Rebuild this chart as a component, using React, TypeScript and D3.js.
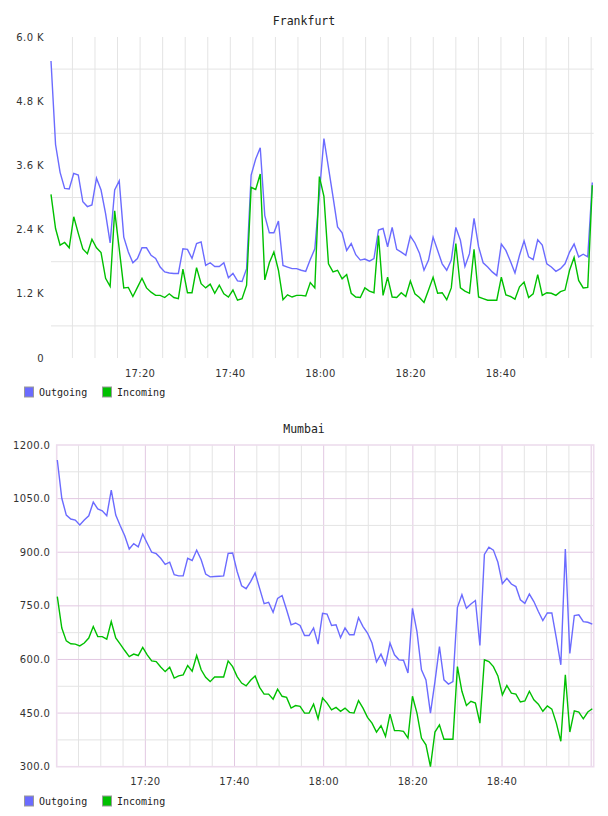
import { useEffect, useRef } from 'react';
import * as d3 from 'd3';

// Frankfurt traffic, one sample per step (raw units, axis shows K)
const frankfurtOutgoing = [
  5550, 3990, 3470, 3170, 3160, 3450, 3420, 2920, 2830, 2860,
  3360, 3140, 2700, 2150, 3140, 3310, 2260, 1980, 1780, 1860,
  2060, 2060, 1920, 1860, 1700, 1610, 1590, 1580, 1580, 2040,
  2030, 1860, 2140, 2170, 1730, 1780, 1710, 1710, 1780, 1500,
  1580, 1440, 1430, 1670, 3420, 3720, 3930, 2660, 2340, 2340,
  2560, 1730, 1700, 1670, 1670, 1640, 1620, 1840, 2040, 3070,
  4100, 3560, 3010, 2450, 2340, 2010, 2140, 1930, 1830, 1850,
  1810, 1860, 2390, 2420, 2080, 2440, 2030, 1980, 1920, 2280,
  2150, 1960, 1640, 1830, 2260, 2010, 1760, 1640, 1830, 2440,
  2200, 1710, 1950, 2610, 2080, 1780, 1700, 1610, 1540, 2130,
  2010, 1810, 1590, 1920, 2190, 1890, 1840, 2210, 2110, 1760,
  1700, 1620, 1670, 1760, 1980, 2130, 1890, 1940, 1890, 3280,
];
const frankfurtIncoming = [
  3060, 2420, 2110, 2160, 2060, 2640, 2330, 2040, 1950, 2220,
  2060, 1970, 1490, 1340, 2750, 2040, 1310, 1320, 1150, 1320,
  1490, 1310, 1230, 1170, 1170, 1130, 1200, 1130, 1110, 1660,
  1220, 1220, 1690, 1390, 1310, 1380, 1210, 1360, 1200, 1140,
  1270, 1080, 1110, 1360, 3190, 3150, 3440, 1460, 1780, 1980,
  1640, 1090, 1180, 1140, 1170, 1170, 1160, 1410, 1310, 3390,
  3020, 1760, 1610, 1640, 1480, 1560, 1210, 1140, 1130, 1310,
  1250, 1220, 2290, 1170, 1510, 1140, 1130, 1220, 1150, 1440,
  1200, 1130, 1040, 1270, 1510, 1210, 1220, 1090, 1310, 2140,
  1310, 1250, 1210, 2030, 1140, 1110, 1080, 1080, 1080, 1510,
  1180, 1150, 1100, 1330, 1420, 1130, 1200, 1560, 1170, 1220,
  1210, 1170, 1240, 1270, 1640, 1880, 1450, 1310, 1320, 3230,
];

// Mumbai traffic
const mumbaiOutgoing = [
  1158, 1051, 1004, 993, 990, 976, 990, 1002, 1040, 1021,
  1016, 1002, 1074, 1004, 974, 946, 909, 924, 915, 951,
  925, 900, 896, 883, 866, 872, 837, 834, 834, 883,
  877, 906, 879, 839, 831, 832, 833, 834, 897, 898,
  846, 806, 798, 818, 842, 799, 756, 760, 732, 771,
  779, 739, 697, 702, 695, 667, 667, 688, 643, 729,
  727, 695, 697, 661, 688, 669, 669, 717, 692, 674,
  646, 593, 615, 585, 646, 613, 599, 598, 562, 743,
  678, 571, 543, 450, 538, 636, 543, 531, 538, 746,
  781, 743, 755, 765, 639, 894, 914, 906, 872, 812,
  827, 811, 804, 767, 757, 783, 762, 734, 709, 730,
  730, 660, 585, 909, 617, 723, 725, 706, 704, 699,
];
const mumbaiIncoming = [
  776, 688, 652, 644, 643, 638, 646, 660, 692, 664,
  664, 657, 706, 660, 643, 625, 608, 615, 611, 634,
  613, 596, 594, 579, 566, 578, 548, 554, 557, 583,
  567, 611, 571, 550, 538, 551, 551, 551, 596, 580,
  552, 534, 526, 542, 554, 522, 503, 503, 489, 517,
  497, 494, 464, 471, 469, 450, 450, 475, 434, 492,
  478, 459, 466, 455, 464, 452, 450, 485, 464, 438,
  422, 397, 415, 385, 447, 401, 401, 399, 380, 497,
  450, 380, 361, 300, 397, 417, 377, 377, 377, 580,
  511, 471, 483, 478, 422, 599, 594, 580, 554, 501,
  527, 506, 503, 481, 484, 511, 487, 475, 455, 470,
  461, 422, 371, 557, 397, 456, 453, 434, 453, 462,
];

const seriesNames = ['Outgoing', 'Incoming'];
const seriesColors = ['#6b6bff', '#00c000'];

const rangeStart = '17:00:15';
const rangeEnd = '19:00:15';
const timeTickLabels = ['17:20', '17:40', '18:00', '18:20', '18:40'];

const frankfurtTicks = [0, 1200, 2400, 3600, 4800, 6000];
const mumbaiTicks = [300, 450, 600, 750, 900, 1050, 1200];

const parseClock = d3.timeParse('%H:%M:%S');
const parseTick = d3.timeParse('%H:%M');
const fmtTime = d3.timeFormat('%H:%M');

interface PanelConfig {
  title: string;
  titleY: number;
  series: number[][];
  ticks: number[];
  tickFormat: (v: number) => string;
  left: number;
  right: number;
  gridRight: number;
  top: number;
  bottom: number;
  xLabelY: number;
  legendY: number;
  framed: boolean;
}

function drawPanel(svg: d3.Selection<SVGSVGElement, unknown, null, undefined>, cfg: PanelConfig) {
  const t0 = parseClock(rangeStart)!;
  const t1 = parseClock(rangeEnd)!;
  const n = cfg.series[0].length;
  // samples are spread evenly across the requested window
  const times = d3.range(n).map(i => new Date(+t0 + (i * (+t1 - +t0)) / (n - 1)));

  const x = d3.scaleTime().domain([t0, t1]).range([cfg.left, cfg.right]);
  const y = d3.scaleLinear()
    .domain([cfg.ticks[0], cfg.ticks[cfg.ticks.length - 1]])
    .range([cfg.bottom, cfg.top]);

  const g = svg.append('g');

  const minor = '#e4e4e4';
  const major = cfg.framed ? '#e2c8e2' : '#e4e4e4';

  // vertical grid every 5 minutes, 20-minute lines stand out on framed panels
  const minutes = d3.timeMinute.every(5)!.range(t0, t1);
  g.append('g')
    .selectAll('line')
    .data(minutes)
    .join('line')
    .attr('x1', d => x(d))
    .attr('x2', d => x(d))
    .attr('y1', cfg.top)
    .attr('y2', cfg.bottom)
    .attr('stroke', d => (d.getMinutes() % 20 === 0 ? major : minor))
    .attr('stroke-width', 1);

  // horizontal grid: half steps, plus the labelled steps on framed panels
  const halfSteps = cfg.ticks.slice(1).map((t, i) => (t + cfg.ticks[i]) / 2);
  g.append('g')
    .selectAll('line')
    .data(halfSteps)
    .join('line')
    .attr('x1', cfg.left)
    .attr('x2', cfg.gridRight)
    .attr('y1', d => y(d))
    .attr('y2', d => y(d))
    .attr('stroke', minor)
    .attr('stroke-width', 1);

  if (cfg.framed) {
    g.append('g')
      .selectAll('line')
      .data(cfg.ticks.slice(1, -1))
      .join('line')
      .attr('x1', cfg.left)
      .attr('x2', cfg.gridRight)
      .attr('y1', d => y(d))
      .attr('y2', d => y(d))
      .attr('stroke', major)
      .attr('stroke-width', 1);

    g.append('rect')
      .attr('x', cfg.left - 0.6)
      .attr('y', cfg.top)
      .attr('width', cfg.gridRight - cfg.left + 0.6)
      .attr('height', cfg.bottom - cfg.top)
      .attr('fill', 'none')
      .attr('stroke', '#eddced')
      .attr('stroke-width', 1.6);
  }

  // y labels
  g.append('g')
    .selectAll('text')
    .data(cfg.ticks)
    .join('text')
    .attr('x', cfg.left - 7)
    .attr('y', d => y(d))
    .attr('dy', '0.35em')
    .attr('text-anchor', 'end')
    .style('font-family', 'DejaVu Sans, sans-serif')
    .style('font-size', '10px')
    .style('letter-spacing', '0.4px')
    .style('fill', '#333')
    .text(cfg.tickFormat);

  // x labels
  g.append('g')
    .selectAll('text')
    .data(timeTickLabels.map(s => parseTick(s)!))
    .join('text')
    .attr('x', d => x(d))
    .attr('y', cfg.xLabelY)
    .attr('text-anchor', 'middle')
    .style('font-family', 'DejaVu Sans, sans-serif')
    .style('font-size', '10px')
    .style('letter-spacing', '0.3px')
    .style('fill', '#333')
    .text(d => fmtTime(d));

  // series lines
  const line = d3.line<number>()
    .x((_, i) => x(times[i]))
    .y(d => y(d));

  cfg.series.forEach((values, k) => {
    g.append('path')
      .datum(values)
      .attr('fill', 'none')
      .attr('stroke', seriesColors[k])
      .attr('stroke-width', 1.4)
      .attr('stroke-linejoin', 'miter')
      .attr('d', line);
  });

  // title
  g.append('text')
    .attr('x', 304)
    .attr('y', cfg.titleY)
    .attr('text-anchor', 'middle')
    .style('font-family', 'DejaVu Sans Mono, monospace')
    .style('font-size', '11.5px')
    .style('fill', '#222')
    .text(cfg.title);

  // legend
  const legendX = [24.5, 102.5];
  const legend = g.append('g')
    .selectAll('g')
    .data(seriesNames)
    .join('g')
    .attr('transform', (_, i) => `translate(${legendX[i]},${cfg.legendY})`);

  legend.append('rect')
    .attr('x', 0)
    .attr('y', -9)
    .attr('width', 9)
    .attr('height', 10)
    .attr('fill', (_, i) => seriesColors[i])
    .attr('stroke', '#999')
    .attr('stroke-width', 1);

  legend.append('text')
    .attr('x', 14.5)
    .attr('y', 0)
    .style('font-family', 'DejaVu Sans Mono, monospace')
    .style('font-size', '10px')
    .style('fill', '#222')
    .text(d => d);
}

export default function App() {
  const svgRef = useRef<SVGSVGElement>(null);

  useEffect(() => {
    if (!svgRef.current) return;
    const svg = d3.select(svgRef.current);
    svg.selectAll('*').remove();

    drawPanel(svg, {
      title: 'Frankfurt',
      titleY: 25,
      series: [frankfurtOutgoing, frankfurtIncoming],
      ticks: frankfurtTicks,
      tickFormat: v => (v === 0 ? '0' : `${(v / 1000).toFixed(1)} K`),
      left: 51,
      right: 592.3,
      gridRight: 593.7,
      top: 37,
      bottom: 358,
      xLabelY: 377,
      legendY: 396,
      framed: false,
    });

    drawPanel(svg, {
      title: 'Mumbai',
      titleY: 433,
      series: [mumbaiOutgoing, mumbaiIncoming],
      ticks: mumbaiTicks,
      tickFormat: v => v.toFixed(1),
      left: 57.3,
      right: 592.3,
      gridRight: 593.7,
      top: 445,
      bottom: 766.7,
      xLabelY: 785,
      legendY: 805,
      framed: true,
    });
  }, []);

  return (
    <svg
      ref={svgRef}
      width={608}
      height={816}
      style={{ position: 'absolute', left: 0, top: 0, background: '#fff' }}
    />
  );
}
